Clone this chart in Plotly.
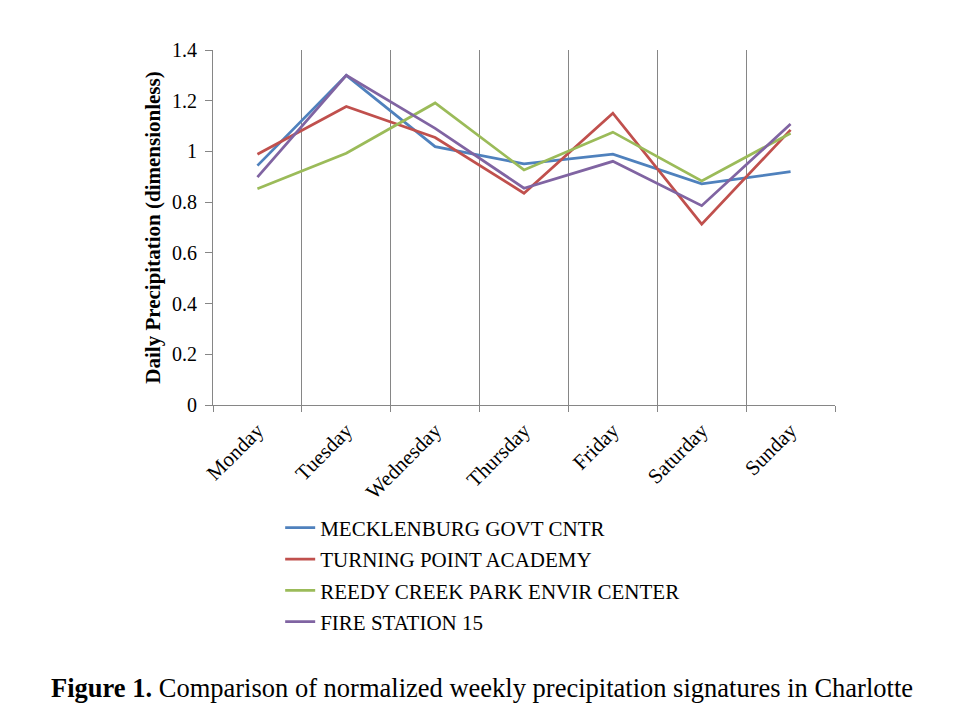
import plotly.graph_objects as go

days = ['Monday', 'Tuesday', 'Wednesday', 'Thursday', 'Friday', 'Saturday', 'Sunday']
mecklenburg = [0.944, 1.300, 1.019, 0.951, 0.989, 0.872, 0.920]
turning_point = [0.989, 1.177, 1.055, 0.835, 1.151, 0.713, 1.085]
reedy_creek = [0.853, 0.993, 1.191, 0.927, 1.076, 0.884, 1.072]
fire_station = [0.899, 1.300, 1.091, 0.855, 0.961, 0.786, 1.108]

series = [
    ('MECKLENBURG GOVT CNTR', mecklenburg, '#4F81BD'),
    ('TURNING POINT ACADEMY', turning_point, '#C0504D'),
    ('REEDY CREEK PARK ENVIR CENTER', reedy_creek, '#9BBB59'),
    ('FIRE STATION 15', fire_station, '#8064A2'),
]

serif = 'Liberation Serif'
axis_grey = '#868686'

fig = go.Figure()
for name, vals, color in series:
    fig.add_trace(go.Scatter(
        x=days, y=vals, name=name, mode='lines',
        line=dict(color=color, width=2.75),
        legendgroup=name,
    ))

fig.update_layout(
    width=960, height=720,
    margin=dict(l=205, r=133, t=42, b=323),
    paper_bgcolor='white', plot_bgcolor='white',
    font=dict(family=serif, size=17, color='black'),
    showlegend=True,
    legend=dict(
        x=0.108, y=-0.289, xanchor='left', yanchor='top',
        orientation='v', traceorder='grouped', tracegroupgap=1,
        font=dict(family=serif, size=21, color='black'),
        bgcolor='rgba(0,0,0,0)',
    ),
    xaxis=dict(
        type='category', tickson='boundaries',
        showgrid=True, gridcolor=axis_grey, gridwidth=1,
        showline=True, linecolor=axis_grey, linewidth=1,
        ticks='outside', ticklen=6, tickcolor=axis_grey,
        tickangle=-45, tickfont=dict(family=serif, size=21),
        ticklabelstandoff=4,
        range=[-0.5, 6.5], zeroline=False,
    ),
    yaxis=dict(
        range=[0, 1.4], dtick=0.2, showgrid=False,
        showline=True, linecolor=axis_grey, linewidth=1,
        ticks='outside', ticklen=7, tickcolor=axis_grey,
        tickfont=dict(family=serif, size=20), zeroline=False,
        ticklabelstandoff=4,
        title=dict(text='<b>Daily Precipitation (dimensionless)</b>',
                   font=dict(family=serif, size=21), standoff=5),
    ),
    annotations=[dict(
        text='<b>Figure 1.</b> Comparison of normalized weekly precipitation signatures in Charlotte',
        xref='paper', yref='paper', x=0.432, y=-0.797,
        xanchor='center', yanchor='middle', showarrow=False,
        font=dict(family=serif, size=26.5, color='black'),
    )],
)

fig.write_html('out.html')
